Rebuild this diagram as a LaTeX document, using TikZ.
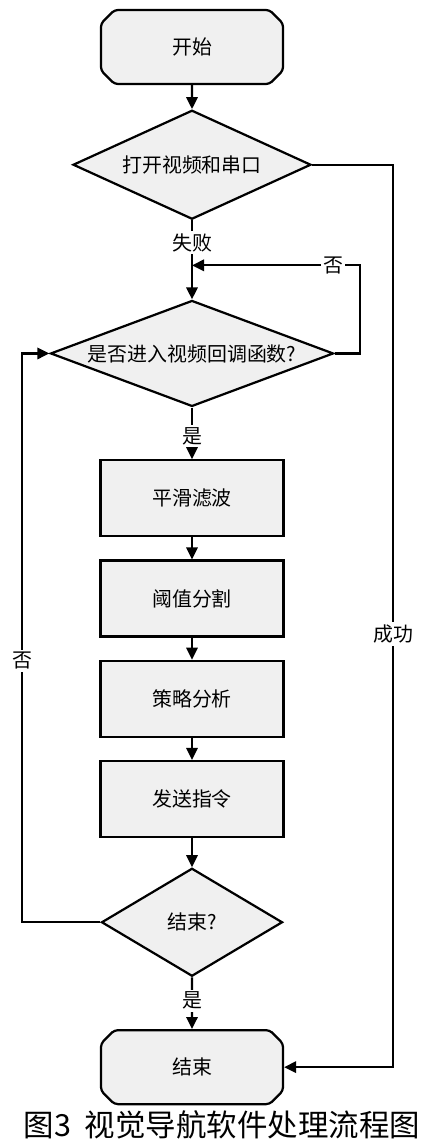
\documentclass[tikz,border=0pt]{standalone}
\usepackage{fontspec}
\setmainfont{Noto Sans CJK SC}
\usepackage{tikz}
\usetikzlibrary{arrows.meta,positioning,shapes.geometric,shapes.misc}

% text of a decision box, without widening the box
\newcommand{\dtxt}[1]{\makebox[0pt]{#1}}

\begin{document}
\begin{tikzpicture}[
      >={Triangle[length=0.36cm,width=0.34cm]}, line width=1.9pt,
      node distance=0.66cm,
      term/.style={draw, chamfered rectangle, chamfered rectangle xsep=0.62cm, rounded corners=3pt,
        fill=gray!12, minimum width=5.46cm, minimum height=2.22cm, inner sep=0pt, font=\fontsize{17}{20}\selectfont},
      blk/.style={draw, fill=gray!12, minimum width=5.49cm, minimum height=2.28cm, inner sep=0pt,
        font=\fontsize{17}{20}\selectfont},
      dec/.style={draw, diamond, fill=gray!12, inner sep=0pt, font=\fontsize{17}{20}\selectfont},
      lbl/.style={fill=white, inner sep=2pt, font=\fontsize{17}{20}\selectfont}]
    \useasboundingbox (0,0) rectangle (12.69,-34.29);
    \node[term] (start) at (5.76,-1.41) {开始};
    \node[dec, minimum width=7.14cm, minimum height=3.27cm, below=0.72cm of start] (open) {\dtxt{打开视频和串口}};
    \coordinate[below=1.35cm of open.south] (merge);
    \node[dec, minimum width=8.49cm, minimum height=3.18cm, below=1.02cm of merge] (cb) {\dtxt{是否进入视频回调函数?}};
    \node[blk, below=1.55cm of cb] (smooth) {平滑滤波};
    \node[blk, below=of smooth] (thresh) {阈值分割};
    \node[blk, below=of thresh] (plan) {策略分析};
    \node[blk, below=of plan] (send) {发送指令};
    \node[dec, minimum width=5.43cm, minimum height=3.24cm, below=0.87cm of send] (done) {\dtxt{结束?}};
    \node[term, below=1.55cm of done] (stop) {结束};
    \node[font=\fontsize{26}{30}\selectfont] (cap) at (6.66,-33.75) {图3~~视觉导航软件处理流程图};
    \coordinate (lft) at (0.66,0);
    \coordinate (rgt) at (11.79,0);
    \coordinate (loop) at (10.8,0);
    \draw[->] (start) -- (open);
    \draw (open.south) -- node[lbl]{失败} (merge);
    \draw[->] (merge) -- (cb.north);
    \draw[->] (cb.east) -- (cb.east -| loop) |- node[lbl, pos=0.58]{否} (merge);
    \draw[->] (cb.south) -- node[lbl, pos=0.55]{是} (smooth);
    \draw[->] (smooth) -- (thresh);
    \draw[->] (thresh) -- (plan);
    \draw[->] (plan) -- (send);
    \draw[->] (send) -- (done);
    \draw[->] (done.west) -- (done.west -| lft) |- node[lbl, pos=0.23]{否} (cb.west);
    \draw[->] (done.south) -- node[lbl, pos=0.45]{是} (stop);
    \draw[->] (open.east) -- (open.east -| rgt) |- node[lbl, pos=0.26]{成功} (stop.east);
\end{tikzpicture}
\end{document}
